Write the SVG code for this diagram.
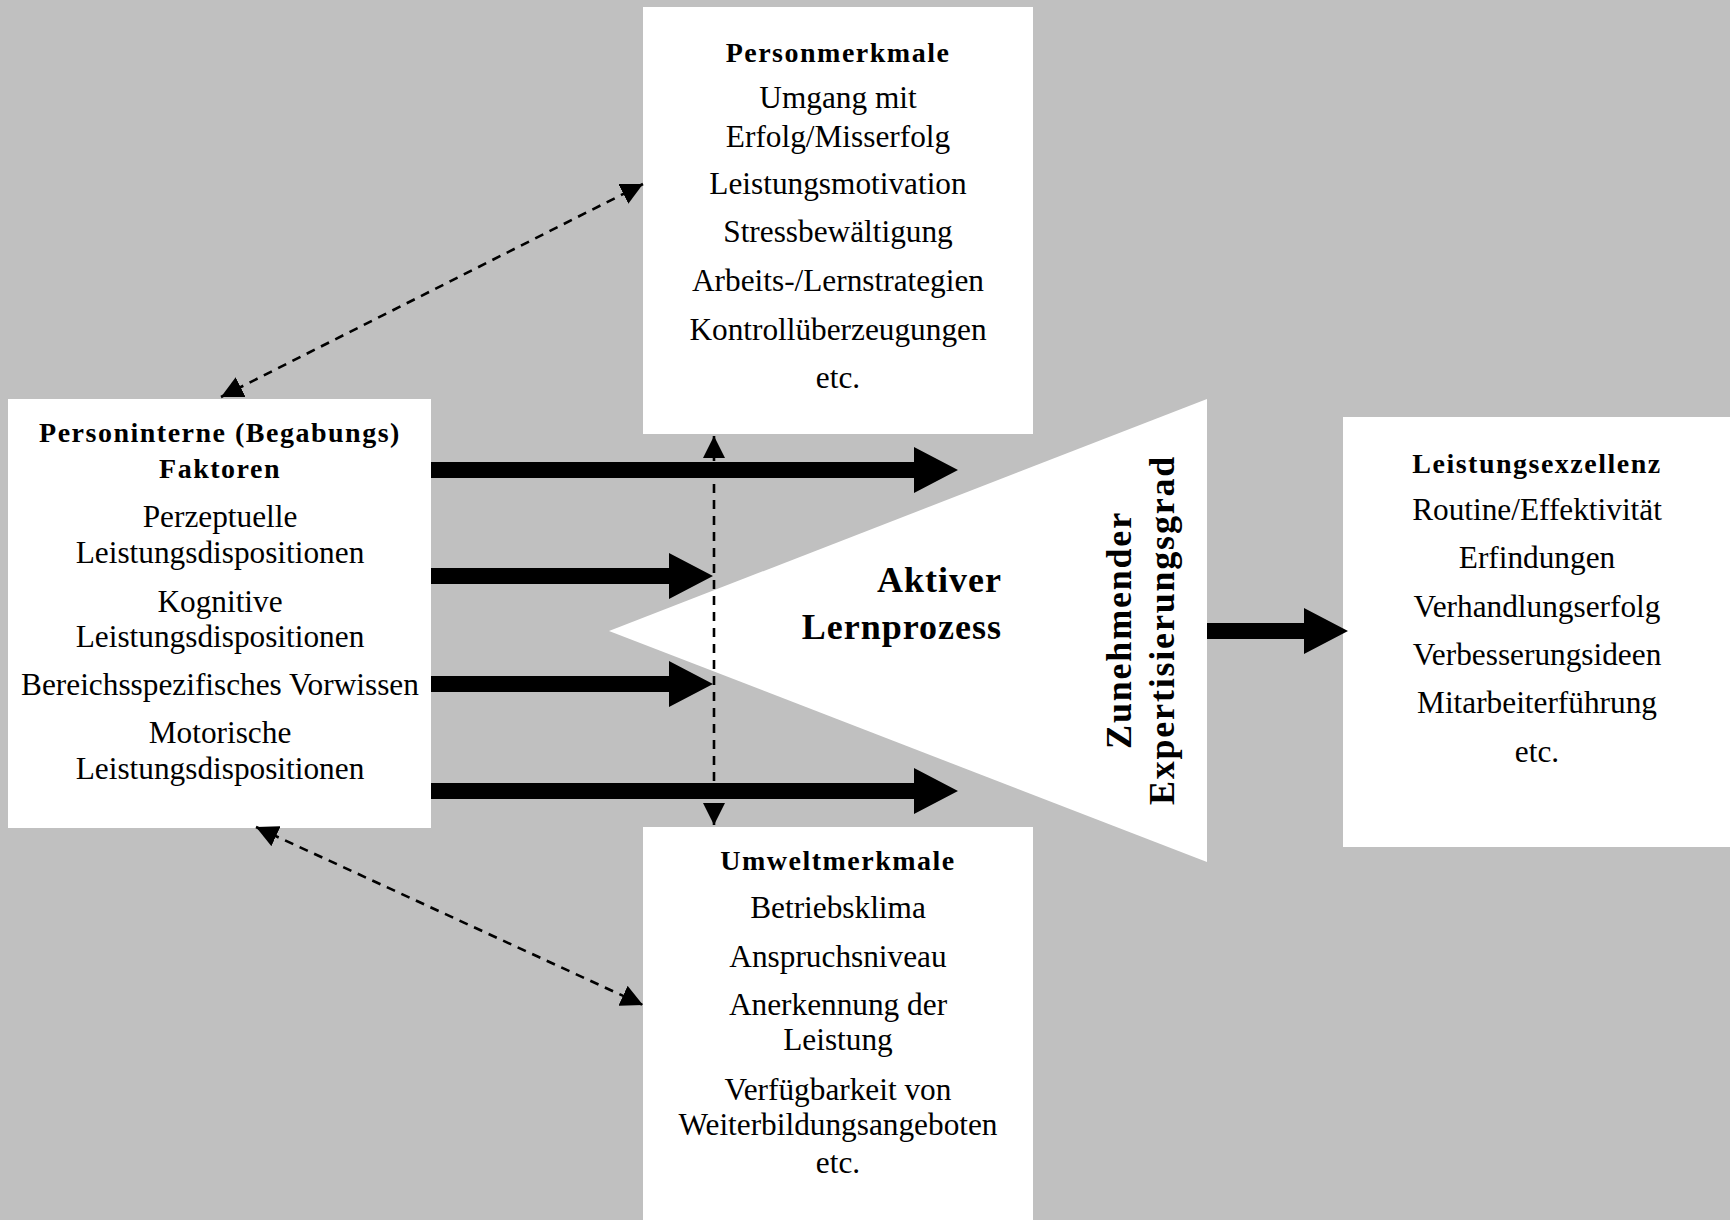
<svg xmlns="http://www.w3.org/2000/svg" width="1730" height="1220" viewBox="0 0 1730 1220">
<style>
.box{fill:#ffffff;stroke:none}
.t{font-family:"Liberation Serif","Times New Roman",serif;font-size:31.3px;fill:#000;text-anchor:middle}
.h{font-family:"Liberation Serif","Times New Roman",serif;font-size:28px;font-weight:bold;letter-spacing:1.5px;fill:#000;text-anchor:middle}
.big{font-family:"Liberation Serif","Times New Roman",serif;font-size:36px;font-weight:bold;letter-spacing:1px;fill:#000}
.vert{letter-spacing:1.8px}
.thick{fill:#000;stroke:none}
.dash{stroke:#000;stroke-width:2.6;stroke-dasharray:9 7;fill:none;marker-start:url(#ah);marker-end:url(#ah)}
</style>
<defs>
<marker id="ah" markerUnits="userSpaceOnUse" viewBox="0 0 22 22" refX="22" refY="11" markerWidth="22" markerHeight="22" orient="auto-start-reverse">
<path d="M0,0 L22,11 L0,22 Z" fill="#000"/>
</marker>
</defs>
<rect x="0" y="0" width="1730" height="1220" fill="#c0c0c0"/>

<g id="personinterne">
<rect class="box" x="8" y="399" width="423" height="429"/>
<text class="h" x="220" y="442">Personinterne (Begabungs)</text>
<text class="h" x="220" y="478">Faktoren</text>
<text class="t" x="220" y="527">Perzeptuelle</text>
<text class="t" x="220" y="563">Leistungsdispositionen</text>
<text class="t" x="220" y="612">Kognitive</text>
<text class="t" x="220" y="647">Leistungsdispositionen</text>
<text class="t" x="220" y="695">Bereichsspezifisches Vorwissen</text>
<text class="t" x="220" y="743">Motorische</text>
<text class="t" x="220" y="779">Leistungsdispositionen</text>
</g>

<g id="personmerkmale">
<rect class="box" x="643" y="7" width="390" height="427"/>
<text class="h" x="838" y="62">Personmerkmale</text>
<text class="t" x="838" y="108">Umgang mit</text>
<text class="t" x="838" y="147">Erfolg/Misserfolg</text>
<text class="t" x="838" y="194">Leistungsmotivation</text>
<text class="t" x="838" y="242">Stressbewältigung</text>
<text class="t" x="838" y="291">Arbeits-/Lernstrategien</text>
<text class="t" x="838" y="340">Kontrollüberzeugungen</text>
<text class="t" x="838" y="388">etc.</text>
</g>

<g id="umweltmerkmale">
<rect class="box" x="643" y="827" width="390" height="393"/>
<text class="h" x="838" y="870">Umweltmerkmale</text>
<text class="t" x="838" y="918">Betriebsklima</text>
<text class="t" x="838" y="967">Anspruchsniveau</text>
<text class="t" x="838" y="1015">Anerkennung der</text>
<text class="t" x="838" y="1050">Leistung</text>
<text class="t" x="838" y="1100">Verfügbarkeit von</text>
<text class="t" x="838" y="1135">Weiterbildungsangeboten</text>
<text class="t" x="838" y="1173">etc.</text>
</g>

<g id="leistungsexzellenz">
<rect class="box" x="1343" y="417" width="387" height="430"/>
<text class="h" x="1537" y="473">Leistungsexzellenz</text>
<text class="t" x="1537" y="520">Routine/Effektivität</text>
<text class="t" x="1537" y="568">Erfindungen</text>
<text class="t" x="1537" y="617">Verhandlungserfolg</text>
<text class="t" x="1537" y="665">Verbesserungsideen</text>
<text class="t" x="1537" y="713">Mitarbeiterführung</text>
<text class="t" x="1537" y="762">etc.</text>
</g>

<g id="lernprozess">
<polygon points="609,631 1207,399 1207,862" fill="#ffffff"/>
<text class="big" x="1002" y="592" text-anchor="end">Aktiver</text>
<text class="big" x="1002" y="639" text-anchor="end">Lernprozess</text>
<text class="big vert" text-anchor="middle" transform="translate(1131,630) rotate(-90)">Zunehmender</text>
<text class="big vert" text-anchor="middle" transform="translate(1174,630) rotate(-90)">Expertisierungsgrad</text>
</g>

<g id="connectors">
<path class="thick" d="M431,462 H914 V447 L958,470 L914,493 V478 H431 Z"/>
<path class="thick" d="M431,568 H669 V553 L713,576 L669,599 V584 H431 Z"/>
<path class="thick" d="M431,676 H669 V661 L713,684 L669,707 V692 H431 Z"/>
<path class="thick" d="M431,783 H914 V768 L958,791 L914,814 V799 H431 Z"/>
<path class="thick" d="M1207,623 H1304 V608 L1348,631 L1304,654 V639 H1207 Z"/>
<line class="dash" x1="714" y1="436" x2="714" y2="825"/>
<line class="dash" x1="221" y1="397" x2="643" y2="184"/>
<line class="dash" x1="256" y1="827" x2="643" y2="1005"/>
</g>
</svg>
